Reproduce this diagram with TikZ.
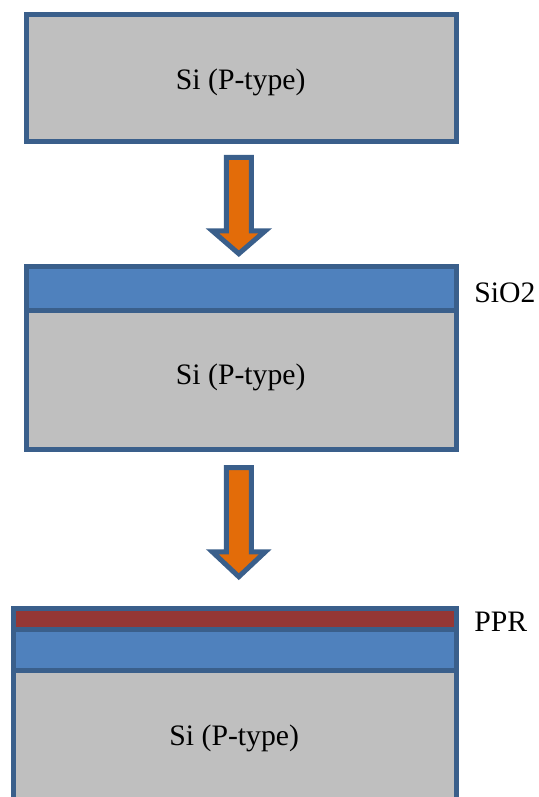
\documentclass[tikz,border=0pt]{standalone}
\usepackage{fontspec}
\setmainfont{Liberation Serif}
\definecolor{edgeBlue}{HTML}{3A5F8B}
\definecolor{siGray}{HTML}{BFBFBF}
\definecolor{oxBlue}{HTML}{4F81BD}
\definecolor{pprRed}{HTML}{953735}
\definecolor{flowOrange}{HTML}{E36C09}

\begin{document}
\begin{tikzpicture}[x=0.02cm, y=-0.02cm,
	layer/.style={draw=edgeBlue, line width=0.1cm, line join=miter},
	lab/.style={font=\fontsize{16.9}{20}\selectfont, inner sep=0pt}]
	\useasboundingbox (0,0) rectangle (538,797);
	\clip (0,0) rectangle (538,797);
	% bare wafer
	\filldraw[layer, fill=siGray] (26.5,14.8) rectangle (456.5,141.5);
	\node[lab] (si1) at (240.7,82.8) {Si (P-type)};
	% process arrows
	\foreach \t/\h/\e in {157.5/230.8/253.7, 467.5/551.8/576.7} {
		\filldraw[layer, fill=flowOrange] (226.3,\t) -- (251.3,\t) -- (251.3,\h) -- (265.3,\h)
			-- (238.8,\e) -- (212.3,\h) -- (226.3,\h) -- cycle;
	}
	% wafer with oxide
	\filldraw[layer, fill=oxBlue] (26.5,266.5) rectangle (456.5,310.3);
	\filldraw[layer, fill=siGray] (26.5,310.3) rectangle (456.5,449.5);
	\node[lab] (si2) at (240.7,377.5) {Si (P-type)};
	\node[lab, anchor=west] (ox) at (474,293) {SiO2};
	% wafer with oxide and resist
	\filldraw[layer, fill=pprRed] (13.5,608.5) rectangle (456.5,629.8);
	\filldraw[layer, fill=oxBlue] (13.5,629.8) rectangle (456.5,670);
	\filldraw[layer, fill=siGray] (13.5,670) rectangle (456.5,820);
	\node[lab] (si3) at (234.2,738) {Si (P-type)};
	\node[lab, anchor=west] (ppr) at (474,621.7) {PPR};
\end{tikzpicture}
\end{document}
